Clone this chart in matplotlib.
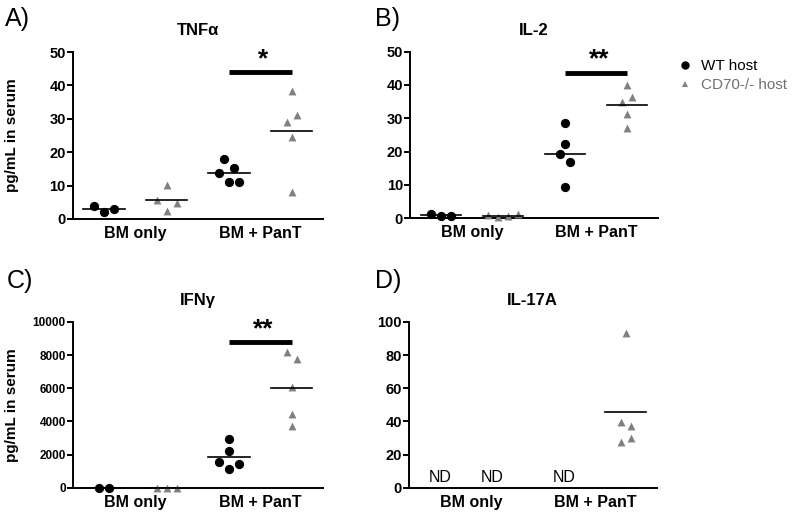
import numpy as np
import matplotlib
matplotlib.use("Agg")
import matplotlib.pyplot as plt
from matplotlib.lines import Line2D

plt.rcParams['font.family'] = ['Liberation Sans', 'DejaVu Sans']

groups = ['WT BM', 'CD70 BM', 'WT PanT', 'CD70 PanT']
group_labels = ['BM only', 'BM + PanT']

# TNFa
tnf_wt_bm = [3.9, 2.1, 3.0]
tnf_cd_bm = [10.2, 5.7, 4.7, 2.5]
tnf_wt_pt = [18.0, 13.8, 15.2, 10.9, 11.1]
tnf_cd_pt = [38.3, 31.1, 29.0, 24.5, 8.2]

# IL-2
il2_wt_bm = [1.2, 0.7, 0.7]
il2_cd_bm = [1.0, 0.3, 0.7, 1.2]
il2_wt_pt = [28.5, 22.3, 19.3, 16.9, 9.3]
il2_cd_pt = [40.0, 36.5, 35.0, 31.2, 27.2]

# IFNg
ifn_wt_bm = [0, 0]
ifn_cd_bm = [0, 0, 0]
ifn_wt_pt = [2916, 2210, 1530, 1410, 1108]
ifn_cd_pt = [8157, 7735, 6048, 4422, 3717]

# IL-17A (only CD70-/- + PanT detected)
il17_cd_pt = [93, 39.8, 37.3, 29.8, 27.3]

# horizontal spread of points inside a group (in units of one marker step)
jitter = {
    'tnf': [[-1, 0, 1], [0, -1, 1, 0], [-0.5, -1, 0.5, 0, 1], [0, 0.5, -0.5, 0, 0]],
    'il2': [[-1, 0, 1], [-1.5, -0.5, 0.5, 1.5], [0, 0, -0.5, 0.5, 0], [0, 0.5, -0.5, 0, 0]],
    'ifn': [[-0.5, 0.5], [-1, 0, 1], [0, 0, -1, 1, 0], [-0.5, 0.5, 0, 0, 0]],
    'il17': [None, None, None, [0, -0.5, 0.5, 0.5, -0.5]],
}

panels = [
    ('A)', 'TNF\u03b1', 'tnf', [tnf_wt_bm, tnf_cd_bm, tnf_wt_pt, tnf_cd_pt], 50, 10, '*', 44.1),
    ('B)', 'IL-2', 'il2', [il2_wt_bm, il2_cd_bm, il2_wt_pt, il2_cd_pt], 50, 10, '**', 43.7),
    ('C)', 'IFN\u03b3', 'ifn', [ifn_wt_bm, ifn_cd_bm, ifn_wt_pt, ifn_cd_pt], 10000, 2000, '**', 8795),
    ('D)', 'IL-17A', 'il17', [None, None, None, il17_cd_pt], 100, 20, None, None),
]
nd_pos = [0, 0.85, 2]

gray = '#808080'
step = 0.16

fig = plt.figure(figsize=(8, 5.15), dpi=100)
rects = [
    [0.091, 0.575, 0.3125, 0.324],
    [0.5125, 0.576, 0.31, 0.324],
    [0.091, 0.053, 0.3125, 0.322],
    [0.511, 0.053, 0.31, 0.322],
]
letter_xy = [(0.006, 0.95), (0.469, 0.95), (0.008, 0.44), (0.469, 0.44)]

for i, (letter, title, key, data, ymax, ystep, star, sig_y) in enumerate(panels):
    ax = fig.add_axes(rects[i])
    for g, vals in enumerate(data):
        if vals is None:
            continue
        xs = g + step * np.array(jitter[key][g])
        if g % 2 == 0:
            ax.scatter(xs, vals, s=32, marker='o', color='black', zorder=3, clip_on=False)
        else:
            ax.scatter(xs, vals, s=32, marker='^', color=gray, linewidths=0, zorder=3, clip_on=False)
        m = np.mean(vals)
        ax.plot([g - 0.33, g + 0.33], [m, m], color='black', lw=1.2, zorder=4, clip_on=False)
    if star:
        ax.plot([2, 3], [sig_y, sig_y], color='black', lw=3.5, solid_capstyle='butt')
        ax.text(2.55, sig_y + ymax * 0.005, star, ha='center', va='bottom',
                fontsize=19, fontweight='bold')
    if key == 'il17':
        for x in nd_pos:
            ax.text(x, ymax * 0.015, 'ND', ha='center', va='bottom', fontsize=11.5)

    ax.set_xlim(-0.5, 3.5)
    ax.set_ylim(0, ymax)
    ax.set_yticks(np.arange(0, ymax + 1, ystep))
    ax.set_xticks([0.5, 2.5])
    ax.set_xticklabels(group_labels, fontsize=11.5, fontweight='bold')
    ax.tick_params(axis='x', length=0, pad=5)
    ax.tick_params(axis='y', length=4, width=1.4, pad=1,
                   labelsize=8.5 if key == 'ifn' else 10.5)
    for lab in ax.get_yticklabels():
        lab.set_fontweight('bold')
    for s in ['top', 'right']:
        ax.spines[s].set_visible(False)
    for s in ['left', 'bottom']:
        ax.spines[s].set_linewidth(1.4)
    ax.set_title(title, fontsize=12, fontweight='bold', pad=12)
    if i % 2 == 0:
        ax.set_ylabel('pg/mL in serum', fontsize=11, fontweight='bold')
        ax.yaxis.set_label_coords(-0.215, 0.5)
    fig.text(letter_xy[i][0], letter_xy[i][1], letter, fontsize=18, va='baseline')

handles = [
    Line2D([], [], marker='o', ls='', color='black', markersize=5),
    Line2D([], [], marker='^', ls='', color=gray, markersize=5, markeredgewidth=0),
]
leg = fig.legend(handles, ['WT host', 'CD70-/- host'], loc='upper left',
                 bbox_to_anchor=(0.828, 0.912), frameon=False, fontsize=11,
                 handletextpad=0.4, labelspacing=0.35, handlelength=1.2)
leg.get_texts()[1].set_color('#707070')

fig.savefig('out.png', dpi=100)
